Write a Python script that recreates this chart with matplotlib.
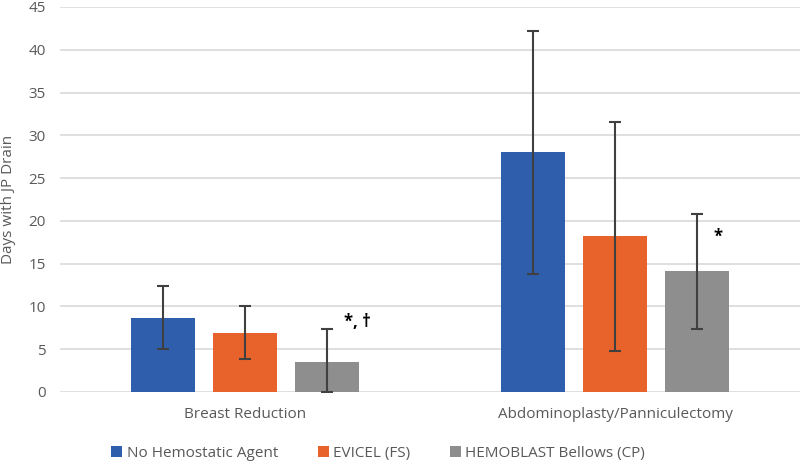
import numpy as np
import matplotlib
matplotlib.use('Agg')
from matplotlib import pyplot as plt

categories = ['Breast Reduction', 'Abdominoplasty/Panniculectomy']
series = ['No Hemostatic Agent', 'EVICEL (FS)', 'HEMOBLAST Bellows (CP)']
means = {
    'No Hemostatic Agent': [8.7, 28.0],
    'EVICEL (FS)': [6.9, 18.2],
    'HEMOBLAST Bellows (CP)': [3.5, 14.1],
}
errs = {
    'No Hemostatic Agent': [3.7, 14.2],
    'EVICEL (FS)': [3.1, 13.4],
    'HEMOBLAST Bellows (CP)': [3.9, 6.7],
}
colors = ['#2F5FAC', '#E8632B', '#8E8E8E']
marks = ['*, †', '*']

plt.rcParams['font.family'] = ['Open Sans', 'DejaVu Sans']
text_color = '#595959'

fig = plt.figure(figsize=(8, 4.65), dpi=100)
ax = fig.add_axes([0.075, 0.157, 0.925, 0.828])

x = np.arange(len(categories))
width = 0.173
step = 0.222
for i, name in enumerate(series):
    pos = x + (i - 1) * step
    m = np.array(means[name])
    e = np.array(errs[name])
    lower = np.minimum(e, m)
    ax.bar(pos, m, width, color=colors[i], label=name, zorder=2)
    ax.errorbar(pos, m, yerr=[lower, e], fmt='none', ecolor='#404040',
                elinewidth=1.5, capsize=4.5, capthick=1.5, zorder=3)

# significance marks next to the HEMOBLAST bars
hb = np.array(means['HEMOBLAST Bellows (CP)']) + np.array(errs['HEMOBLAST Bellows (CP)'])
dy = [0.8, -2.6]
for j, txt in enumerate(marks):
    ax.text(x[j] + step + 0.045, hb[j] + dy[j], txt, fontsize=12, fontweight='bold',
            color='black', va='center', ha='left')

ax.set_xlim(-0.5, 1.5)
ax.set_ylim(0, 45)
ax.set_yticks(np.arange(0, 46, 5))
ax.set_xticks(x)
ax.set_xticklabels(categories)
ax.yaxis.grid(True, color='#D9D9D9', linewidth=1.2, zorder=0)
ax.set_axisbelow(True)
for s in ax.spines.values():
    s.set_visible(False)
ax.tick_params(axis='y', length=0, labelsize=11, colors=text_color, pad=10)
ax.tick_params(axis='x', length=0, labelsize=11, colors=text_color, pad=11)
ax.set_ylabel('Days with JP Drain', fontsize=11, color=text_color, labelpad=9)

ax.legend(loc='upper center', bbox_to_anchor=(0.43, -0.105), ncol=3, frameon=False,
          fontsize=11, labelcolor=text_color, handlelength=0.7, handleheight=0.7,
          handletextpad=0.3, columnspacing=2.6)

fig.savefig('out.png', dpi=100)
